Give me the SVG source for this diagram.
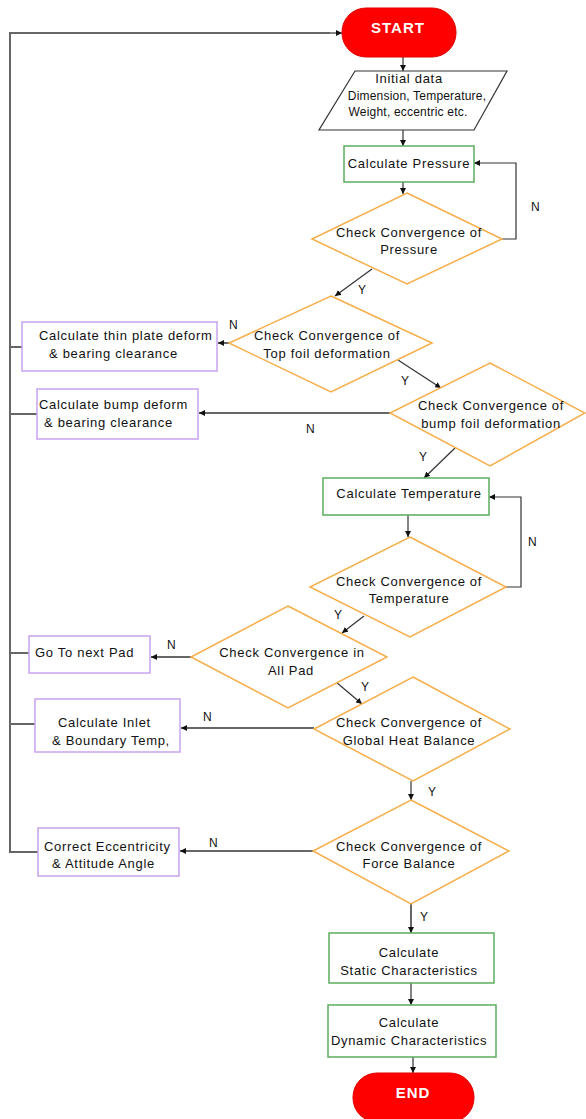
<svg xmlns="http://www.w3.org/2000/svg" width="586" height="1119" viewBox="0 0 586 1119">
<defs>
<marker id="ah" viewBox="0 0 10 10" refX="10" refY="5" markerWidth="6" markerHeight="6" markerUnits="userSpaceOnUse" orient="auto">
<path d="M0,0 L10,5 L0,10 z" fill="#111"/>
</marker>
</defs>
<style>
text{font-family:"Liberation Sans",Arial,sans-serif;font-size:13px;fill:#111;letter-spacing:0.7px}
.c{text-anchor:middle}
.sm{font-size:12px;letter-spacing:0.2px}
.term{fill:#ff0000;stroke:#e00000;stroke-width:1}
.tt{font-size:15px;font-weight:bold;fill:#fff;letter-spacing:1px;text-anchor:middle}
.pg{fill:#fff;stroke:#333;stroke-width:1.2}
.gr{fill:#fff;stroke:#5cad5c;stroke-width:1.5}
.pu{fill:#fff;stroke:#c7a3f0;stroke-width:1.5}
.dm{fill:#fff;stroke:#f7ae4a;stroke-width:1.5}
.ln{fill:none;stroke:#333;stroke-width:1.2}
.lg{fill:none;stroke:#666;stroke-width:2}
.lb{font-size:12px;letter-spacing:0}
</style>
<g id="connectors">
<polyline class="lg" points="22,347 10,347"/>
<polyline class="lg" points="37,414 10,414"/>
<polyline class="lg" points="29,653 10,653"/>
<polyline class="lg" points="35,724 10,724"/>
<polyline class="lg" points="38,852 10,852 10,33 330,33"/>
<line class="ln" x1="330" y1="33" x2="342" y2="33" marker-end="url(#ah)"/>
<line class="ln" x1="403" y1="57" x2="403" y2="71" marker-end="url(#ah)"/>
<line class="ln" x1="403" y1="130" x2="403" y2="146" marker-end="url(#ah)"/>
<line class="ln" x1="403" y1="182" x2="403" y2="194" marker-end="url(#ah)"/>
<polyline class="ln" points="502,239 516,239 516,163 474,163" marker-end="url(#ah)"/>
<line class="ln" x1="372" y1="269" x2="335" y2="296" marker-end="url(#ah)"/>
<line class="lg" x1="229" y1="343" x2="218" y2="343" marker-end="url(#ah)"/>
<line class="ln" x1="398" y1="360" x2="441" y2="388" marker-end="url(#ah)"/>
<line class="lg" x1="390" y1="413" x2="199" y2="413" marker-end="url(#ah)"/>
<line class="ln" x1="455" y1="448" x2="424" y2="478" marker-end="url(#ah)"/>
<polyline class="ln" points="506,587 521,587 521,497 489,497" marker-end="url(#ah)"/>
<line class="ln" x1="408" y1="515" x2="408" y2="537" marker-end="url(#ah)"/>
<line class="ln" x1="364" y1="616" x2="342" y2="633" marker-end="url(#ah)"/>
<line class="lg" x1="191" y1="657" x2="151" y2="657" marker-end="url(#ah)"/>
<line class="ln" x1="336" y1="682" x2="362" y2="704" marker-end="url(#ah)"/>
<line class="lg" x1="314" y1="728" x2="181" y2="728" marker-end="url(#ah)"/>
<line class="ln" x1="411" y1="781" x2="411" y2="800" marker-end="url(#ah)"/>
<line class="lg" x1="313" y1="851" x2="180" y2="851" marker-end="url(#ah)"/>
<line class="lg" x1="411" y1="904" x2="411" y2="933" marker-end="url(#ah)"/>
<line class="ln" x1="411" y1="983" x2="411" y2="1005" marker-end="url(#ah)"/>
<line class="ln" x1="413" y1="1057" x2="413" y2="1073" marker-end="url(#ah)"/>
<text class="lb" x="531" y="211">N</text>
<text class="lb" x="358" y="294">Y</text>
<text class="lb" x="229" y="329">N</text>
<text class="lb" x="401" y="385">Y</text>
<text class="lb" x="306" y="433">N</text>
<text class="lb" x="419" y="461">Y</text>
<text class="lb" x="528" y="546">N</text>
<text class="lb" x="334" y="619">Y</text>
<text class="lb" x="167" y="649">N</text>
<text class="lb" x="361" y="691">Y</text>
<text class="lb" x="203" y="721">N</text>
<text class="lb" x="428" y="796">Y</text>
<text class="lb" x="209" y="847">N</text>
<text class="lb" x="420" y="921">Y</text>
</g>
<g id="start">
<rect class="term" x="342" y="8" width="114" height="49" rx="24"/>
<text class="tt" x="398" y="33">START</text>
</g>
<g id="initial-data">
<polygon class="pg" points="355,71 507,71 474,130 319,130"/>
<text class="c" x="409" y="83">Initial data</text>
<text class="c sm" x="417" y="100">Dimension, Temperature,</text>
<text class="c sm" x="408" y="116">Weight, eccentric etc.</text>
</g>
<g id="calc-pressure">
<rect class="gr" x="344" y="146" width="130" height="36"/>
<text class="c" x="409" y="168">Calculate Pressure</text>
</g>
<g id="check-pressure">
<polygon class="dm" points="407,193 502,239 407,284 312,239"/>
<text class="c" x="409" y="237">Check Convergence of</text>
<text class="c" x="409" y="254">Pressure</text>
</g>
<g id="check-topfoil">
<polygon class="dm" points="331,296 432,343 331,392 229,343"/>
<text class="c" x="327" y="340">Check Convergence of</text>
<text class="c" x="327" y="358">Top foil deformation</text>
</g>
<g id="calc-thinplate">
<rect class="pu" x="22" y="322" width="195" height="49"/>
<text x="39" y="340">Calculate thin plate deform</text>
<text x="49" y="358">&amp; bearing clearance</text>
</g>
<g id="check-bumpfoil">
<polygon class="dm" points="490,363 585,413 490,466 390,413"/>
<text class="c" x="491" y="410">Check Convergence of</text>
<text class="c" x="491" y="428">bump foil deformation</text>
</g>
<g id="calc-bump">
<rect class="pu" x="37" y="389" width="161" height="50"/>
<text x="39" y="409">Calculate bump deform</text>
<text x="44" y="427">&amp; bearing clearance</text>
</g>
<g id="calc-temperature">
<rect class="gr" x="323" y="478" width="166" height="37"/>
<text class="c" x="409" y="498">Calculate Temperature</text>
</g>
<g id="check-temperature">
<polygon class="dm" points="410,537 506,587 410,637 310,587"/>
<text class="c" x="409" y="586">Check Convergence of</text>
<text class="c" x="409" y="603">Temperature</text>
</g>
<g id="check-allpad">
<polygon class="dm" points="288,606 387,657 288,708 191,657"/>
<text class="c" x="292" y="657">Check Convergence in</text>
<text class="c" x="291" y="675">All Pad</text>
</g>
<g id="next-pad">
<rect class="pu" x="29" y="636" width="121" height="37"/>
<text x="35" y="657">Go To next Pad</text>
</g>
<g id="check-heat">
<polygon class="dm" points="413,677 510,729 413,781 314,729"/>
<text class="c" x="409" y="727">Check Convergence of</text>
<text class="c" x="409" y="745">Global Heat Balance</text>
</g>
<g id="calc-inlet">
<rect class="pu" x="35" y="699" width="145" height="53"/>
<text x="58" y="727">Calculate Inlet</text>
<text x="52" y="745">&amp; Boundary Temp,</text>
</g>
<g id="check-force">
<polygon class="dm" points="411,800 509,851 411,904 313,851"/>
<text class="c" x="409" y="851">Check Convergence of</text>
<text class="c" x="409" y="868">Force Balance</text>
</g>
<g id="correct-ecc">
<rect class="pu" x="38" y="828" width="141" height="48"/>
<text x="44" y="851">Correct Eccentricity</text>
<text x="52" y="868">&amp; Attitude Angle</text>
</g>
<g id="calc-static">
<rect class="gr" x="329" y="933" width="165" height="50"/>
<text class="c" x="409" y="957">Calculate</text>
<text class="c" x="409" y="975">Static Characteristics</text>
</g>
<g id="calc-dynamic">
<rect class="gr" x="328" y="1005" width="168" height="52"/>
<text class="c" x="409" y="1027">Calculate</text>
<text class="c" x="409" y="1045">Dynamic Characteristics</text>
</g>
<g id="end">
<rect class="term" x="353" y="1073" width="121" height="49" rx="24"/>
<text class="tt" x="413" y="1098">END</text>
</g>
</svg>
